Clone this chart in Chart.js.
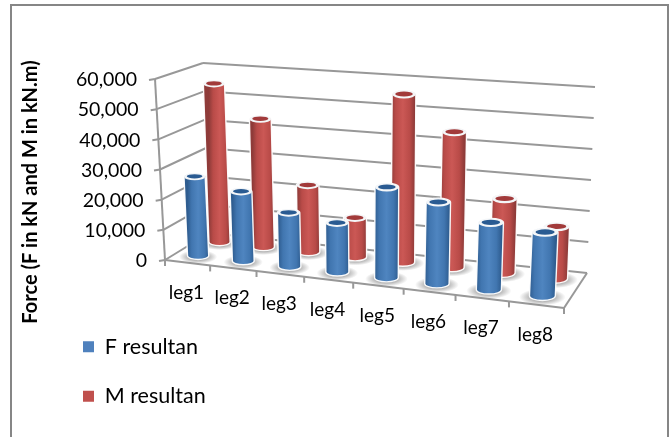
<!DOCTYPE html>
<html>
<head>
<meta charset="utf-8">
<style>
body { margin: 0; background: #fff; }
canvas { display: block; }
</style>
<script src="https://cdn.jsdelivr.net/npm/chart.js@4/dist/chart.umd.min.js"></script>
</head>
<body>
<canvas id="myChart" width="670" height="437"></canvas>
<script>
const categories = ['leg1', 'leg2', 'leg3', 'leg4', 'leg5', 'leg6', 'leg7', 'leg8'];
const fResultan = [26500, 23000, 17600, 15900, 29000, 25800, 21000, 19700];
const mResultan = [54700, 43700, 22500, 13000, 55500, 44300, 24000, 16600];
const axisMax = 60000;
const axisStep = 10000;

// corners of the 3D box as they land on the page
const box = {
    fbl: [165, 260], ftl: [155, 79], fbr: [564, 308], ftr: [574, 110],
    bbl: [209, 233], btl: [203, 63], bbr: [587, 273], btr: [595, 87]
};
const perspective = 1.12;

function mix(a, b, t) {
    return [a[0] + (b[0] - a[0]) * t, a[1] + (b[1] - a[1]) * t];
}

// u along the categories, v up the value axis, d from front to back (all 0..1)
function project(u, v, d) {
    const uu = u / (u + (1 - u) * perspective);
    const front = mix(mix(box.fbl, box.fbr, uu), mix(box.ftl, box.ftr, uu), v);
    const back = mix(mix(box.bbl, box.bbr, uu), mix(box.btl, box.btr, uu), v);
    return mix(front, back, d);
}

function line(ctx, a, b) {
    ctx.beginPath();
    ctx.moveTo(a[0], a[1]);
    ctx.lineTo(b[0], b[1]);
    ctx.stroke();
}

function drawWalls(chart) {
    const ctx = chart.ctx;
    const yScale = chart.scales.y;
    ctx.save();
    ctx.strokeStyle = '#989898';
    ctx.lineWidth = 2;
    ctx.fillStyle = '#000';
    ctx.font = '19.5px Lato';
    ctx.textAlign = 'right';
    ctx.textBaseline = 'middle';
    line(ctx, project(0, 0, 0), project(0, 1, 0));
    yScale.ticks.forEach(t => {
        const v = t.value / axisMax;
        const a = project(0, v, 0);
        line(ctx, [a[0] - 6, a[1] + 1], a);
        line(ctx, a, project(0, v, 1));
        line(ctx, project(0, v, 1), project(1, v, 1));
        ctx.fillText(t.value.toLocaleString('en-US'), a[0] - 18, a[1] + 1);
    });
    // floor
    line(ctx, project(0, 0, 0), project(1, 0, 0));
    line(ctx, project(1, 0, 0), project(1, 0, 1));
    ctx.font = '19px Lato';
    ctx.textAlign = 'center';
    categories.forEach((c, i) => {
        const a = project(i / 8, 0, 0);
        line(ctx, a, [a[0], a[1] + 6]);
        const p = project((i + 0.5) / 8, 0, 0);
        ctx.fillText(c, p[0] - 1, p[1] + 30);
    });
    const a = project(1, 0, 0);
    line(ctx, a, [a[0], a[1] + 6]);
    ctx.restore();
}

function drawShadow(ctx, p, rx, ry) {
    ctx.save();
    ctx.translate(p[0], p[1] + 1);
    ctx.scale(rx * 1.8, ry * 1.9);
    const g = ctx.createRadialGradient(0, 0, 0.35, 0, 0, 1);
    g.addColorStop(0, 'rgba(120,120,120,0.75)');
    g.addColorStop(1, 'rgba(120,120,120,0)');
    ctx.fillStyle = g;
    ctx.beginPath();
    ctx.arc(0, 0, 1, 0, Math.PI * 2);
    ctx.fill();
    ctx.restore();
}

function drawCylinder(ctx, base, top, rx, tone) {
    const ry = rx * 0.34;
    const g = ctx.createLinearGradient(base[0] - rx, 0, base[0] + rx, 0);
    g.addColorStop(0, tone.dark);
    g.addColorStop(0.2, tone.mid);
    g.addColorStop(0.5, tone.light);
    g.addColorStop(0.8, tone.mid);
    g.addColorStop(1, tone.dark);

    ctx.save();
    ctx.beginPath();
    ctx.moveTo(top[0] - rx, top[1]);
    ctx.lineTo(base[0] - rx, base[1]);
    ctx.ellipse(base[0], base[1], rx, ry, 0, Math.PI, 0, true);
    ctx.lineTo(top[0] + rx, top[1]);
    ctx.ellipse(top[0], top[1], rx, ry, 0, 0, Math.PI, true);
    ctx.closePath();
    ctx.fillStyle = g;
    ctx.fill();
    ctx.strokeStyle = 'rgba(255,255,255,0.95)';
    ctx.lineWidth = 1.4;
    ctx.stroke();

    // rim and cap
    ctx.beginPath();
    ctx.ellipse(top[0], top[1], rx, ry, 0, 0, Math.PI * 2);
    ctx.fillStyle = '#f4f6f8';
    ctx.fill();
    ctx.beginPath();
    ctx.ellipse(top[0], top[1] - 0.4, rx * 0.74, ry * 0.6, 0, 0, Math.PI * 2);
    ctx.fillStyle = tone.cap;
    ctx.fill();
    ctx.restore();
}

const tones = [
    { dark: '#2f5d90', mid: '#4176b0', light: '#4f85c0', cap: '#2a5b92' },
    { dark: '#8f3b39', mid: '#b94b48', light: '#cb5855', cap: '#a23a3a' }
];
const depths = [0.25, 0.75];

const cylinderPlugin = {
    id: 'cylinders',
    afterLayout(chart) {
        // legend sits under the plot
        const l = chart.legend;
        l.left = 55;
        l.right = 300;
        l.top = 308;
        l.bottom = 437;
    },
    beforeDraw(chart) {
        const ctx = chart.ctx;
        ctx.save();
        ctx.fillStyle = '#fff';
        ctx.fillRect(0, 0, chart.width, chart.height);
        ctx.strokeStyle = '#868686';
        ctx.lineWidth = 2;
        ctx.strokeRect(11, 5, 657, 440);
        ctx.restore();
        drawWalls(chart);
    },
    beforeDatasetsDraw(chart) {
        const ctx = chart.ctx;
        const area = chart.chartArea;
        const yScale = chart.scales.y;
        // back row first
        [1, 0].forEach(ds => {
            const meta = chart.getDatasetMeta(ds);
            const d = depths[ds];
            const shape = el => {
                const u = (el.x - area.left) / area.width;
                const du = el.width / 2 / area.width;
                return {
                    base: project(u, 0, d),
                    top: project(u, yScale.getValueForPixel(el.y) / axisMax, d),
                    rx: (project(u + du, 0, 0)[0] - project(u - du, 0, 0)[0]) / 2
                };
            };
            meta.data.forEach(el => {
                const s = shape(el);
                drawShadow(ctx, s.base, s.rx, s.rx * 0.34);
            });
            meta.data.forEach(el => {
                const s = shape(el);
                drawCylinder(ctx, s.base, s.top, s.rx, tones[ds]);
            });
        });
        return false; // the flat bars are replaced by the cylinders
    }
};

new Chart(document.getElementById('myChart').getContext('2d'), {
    type: 'bar',
    data: {
        labels: categories,
        datasets: [
            { label: 'F resultan', data: fResultan, backgroundColor: '#4f81bd', grouped: false, barPercentage: 0.47, categoryPercentage: 1 },
            { label: 'M resultan', data: mResultan, backgroundColor: '#c0504d', grouped: false, barPercentage: 0.47, categoryPercentage: 1 }
        ]
    },
    options: {
        responsive: false,
        animation: false,
        layout: { padding: { left: 15, top: 60, right: 80, bottom: 113 } },
        scales: {
            x: { display: false },
            y: {
                min: 0,
                max: axisMax,
                ticks: { display: false, stepSize: axisStep },
                grid: { display: false },
                border: { display: false },
                title: {
                    display: true,
                    text: 'Force (F in kN and M in kN.m)',
                    color: '#000',
                    font: { family: 'Lato', size: 20, weight: 'bold' }
                }
            }
        },
        plugins: {
            legend: {
                position: 'chartArea',
                align: 'start',
                labels: {
                    color: '#000',
                    font: { family: 'Lato', size: 21.5 },
                    boxWidth: 11,
                    boxHeight: 11,
                    padding: 28
                }
            },
            tooltip: { enabled: false }
        }
    },
    plugins: [cylinderPlugin]
});
</script>
</body>
</html>
